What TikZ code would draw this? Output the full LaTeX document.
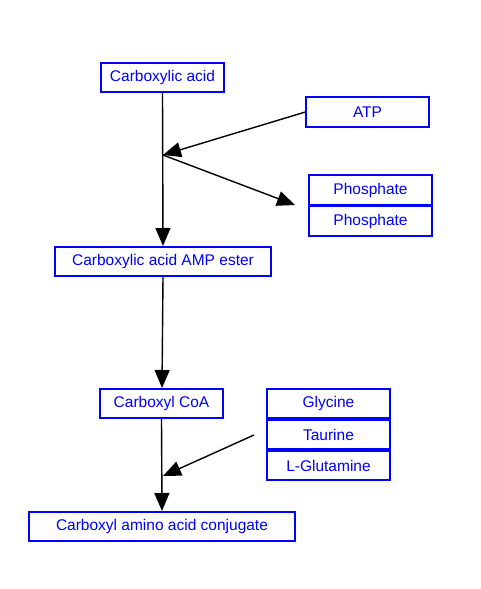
\documentclass[tikz,border=0pt]{standalone}
\usepackage{fontspec}
\setmainfont{Liberation Sans}
\usetikzlibrary{arrows.meta}
\begin{document}
\begin{tikzpicture}[x=1pt,y=-1pt,
  box/.style={draw=blue,line width=1.3pt,text=blue,font=\fontsize{15.5}{18}\selectfont,inner sep=0pt,anchor=center},
  conn/.style={draw=black,line width=1.4pt,-{Triangle[length=18pt,width=15pt]}},
  plain/.style={draw=black,line width=1.4pt}]
\useasboundingbox (0,0) rectangle (480,589);
\node[box,minimum width=123pt,minimum height=29pt] (ca) at (162.5,77.5) {Carboxylic acid};
\node[box,minimum width=123pt,minimum height=30pt] (atp) at (367.5,112) {ATP};
\node[box,minimum width=123pt,minimum height=30pt] (p1) at (370.5,190) {Phosphate};
\node[box,minimum width=123pt,minimum height=30pt] (p2) at (370.5,221) {Phosphate};
\node[box,minimum width=216pt,minimum height=29pt] (amp) at (163,261.5) {Carboxylic acid AMP ester};
\node[box,minimum width=123pt,minimum height=29pt] (coa) at (161.5,403.5) {Carboxyl CoA};
\node[box,minimum width=123pt,minimum height=29pt] (gly) at (328.5,403.5) {Glycine};
\node[box,minimum width=123pt,minimum height=29pt] (tau) at (328.5,434.5) {Taurine};
\node[box,minimum width=123pt,minimum height=29pt] (glu) at (328.5,465.5) {L-Glutamine};
\node[box,minimum width=266pt,minimum height=29pt] (conj) at (162,526.5) {Carboxyl amino acid conjugate};
\coordinate (j1) at (163,155);
\coordinate (p1end) at (295,205);
\coordinate (ampin) at (163,246);
\coordinate (coain) at (162,388);
\coordinate (conjin) at (162,511);
\coordinate (j2) at (163,476);
\coordinate (aastart) at (254,435);
\draw[conn] (ca.south) -- (ampin);
\draw[conn] (atp.west) -- (j1);
\draw[conn] (j1) -- (p1end);
\draw[conn] (amp.south) -- (coain);
\draw[conn] (coa.south) -- (conjin);
\draw[conn] (aastart) -- (j2);
\end{tikzpicture}
\end{document}
